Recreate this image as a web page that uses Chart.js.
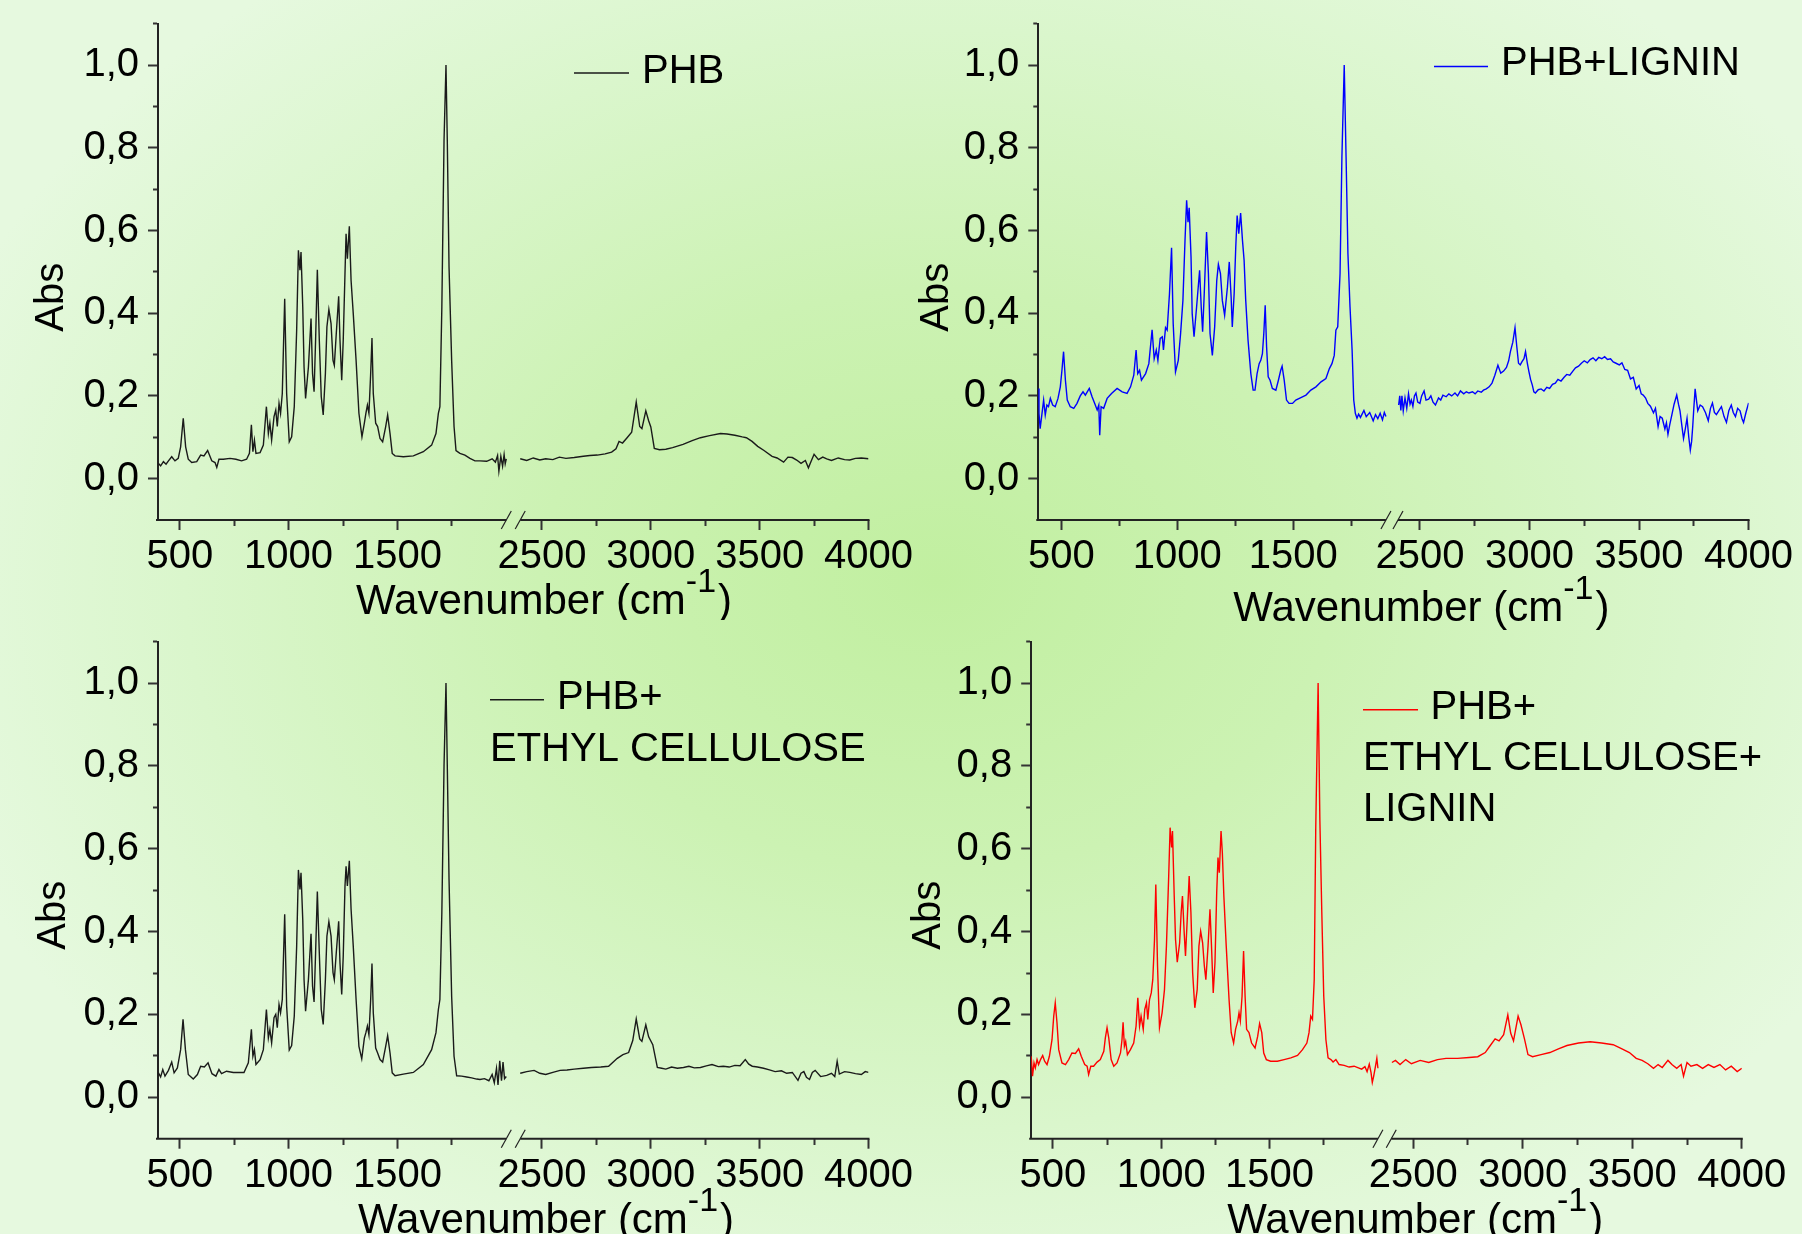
<!DOCTYPE html>
<html>
<head>
<meta charset="utf-8">
<title>FTIR spectra</title>
<script src="https://cdn.jsdelivr.net/npm/chart.js@4.4.1/dist/chart.umd.min.js"></script>
<style>
html,body{margin:0;padding:0;}
body{
    width:1802px;height:1234px;overflow:hidden;position:relative;
    background:radial-gradient(ellipse 58% 62% at 52% 47%, #c1efa0 0%, #ccf2b3 38%, #daf6cc 72%, #e6f9df 100%);
}
canvas{position:absolute;}
</style>
</head>
<body>
<canvas id="tl" width="930" height="620" style="left:0;top:0"></canvas>
<canvas id="tr" width="902" height="634" style="left:900px;top:0"></canvas>
<canvas id="bl" width="930" height="617" style="left:0;top:617px"></canvas>
<canvas id="br" width="902" height="617" style="left:900px;top:617px"></canvas>
<script>
// ---- data (wavenumber cm-1 / absorbance) ----
const phbWave=[402,412,425,437,448,463,478,493,504,516,527,539,555,578,596,611,628,647,662,670,680,700,731,758,784,807,820,829,836,843,850,869,884,898,907,914,922,933,941,948,956,963,971,982,991,1003,1014,1026,1037,1045,1052,1057,1065,1071,1078,1091,1103,1110,1117,1124,1132,1141,1150,1159,1169,1176,1185,1195,1204,1210,1219,1230,1236,1244,1251,1259,1264,1270,1279,1287,1297,1310,1323,1337,1348,1355,1362,1369,1377,1383,1389,1400,1409,1420,1432,1446,1455,1466,1476,1489,1527,1573,1619,1657,1677,1688,1695,1704,1714,1723,1729,1737,1749,1760,1769,1787,1810,1833,1856,1879,1910,1935,1950,1960,1966,1975,1983,1990,1995,2000,
    2400,2430,2460,2490,2517,2550,2580,2610,2648,2690,2720,2754,2790,2820,2840,2854,2870,2891,2912,2933,2949,2959,2977,2990,3000,3016,3040,3069,3100,3148,3190,3228,3270,3320,3350,3386,3420,3439,3465,3491,3520,3557,3580,3610,3630,3650,3670,3690,3710,3724,3735,3750,3770,3790,3808,3830,3861,3890,3914,3940,3967,4000];
const phbAbs=[.037,.031,.041,.035,.043,.053,.043,.049,.077,.146,.077,.047,.039,.041,.057,.055,.068,.043,.039,.027,.047,.047,.049,.047,.043,.047,.061,.13,.065,.093,.061,.063,.081,.174,.109,.134,.093,.15,.166,.126,.182,.158,.206,.435,.206,.089,.101,.174,.359,.552,.504,.548,.415,.27,.194,.27,.387,.254,.21,.335,.505,.335,.198,.154,.254,.367,.409,.375,.286,.274,.351,.441,.335,.238,.335,.496,.592,.532,.61,.479,.399,.286,.158,.101,.134,.158,.178,.158,.254,.34,.206,.134,.126,.097,.089,.126,.154,.109,.061,.055,.053,.055,.065,.081,.109,.158,.174,.415,.817,1.0,.817,.512,.286,.126,.068,.061,.057,.049,.043,.043,.042,.048,.040,.056,.018,.054,.030,.058,.036,.048,
    .048,.044,.05,.045,.048,.046,.052,.049,.051,.054,.056,.057,.06,.064,.072,.09,.086,.099,.112,.185,.126,.121,.164,.14,.125,.073,.07,.071,.075,.083,.092,.099,.104,.109,.108,.105,.101,.099,.09,.078,.068,.054,.05,.040,.052,.051,.045,.037,.044,.026,.04,.059,.046,.052,.048,.044,.05,.046,.045,.049,.05,.048];

const phbLigWave=[400,403,408,416,423,430,437,444,452,462,473,485,495,502,509,517,525,538,553,567,581,593,603,620,632,643,654,661,665,671,682,697,716,740,762,783,798,812,822,829,837,845,863,877,891,900,909,916,926,935,940,949,956,966,975,982,992,1004,1014,1024,1033,1040,1046,1051,1059,1064,1072,1083,1096,1103,1109,1116,1126,1134,1141,1151,1161,1170,1177,1186,1194,1204,1216,1224,1232,1237,1245,1252,1258,1265,1273,1281,1288,1295,1305,1317,1327,1335,1344,1353,1360,1367,1373,1379,1385,1392,1400,1410,1425,1436,1446,1452,1461,1471,1482,1497,1511,1533,1555,1576,1598,1620,1641,1656,1667,1677,1684,1692,1702,1710,1720,1728,1736,1745,1754,1761,1768,1775,1782,1790,1805,1815,1830,1845,1855,1865,1875,1885,1893,1900,
    2403,2408,2413,2418,2424,2432,2440,2448,2455,2461,
    2468,2475,2482,2490,2500,2508,2519,2528,2540,2550,
    2560,2571,2585,2595,2605,2620,2632,2645,2660,2672,
    2685,2700,2712,2724,2740,2752,2764,2780,2790,2803,
    2816,2829,2842,2856,2869,2882,2895,2905,2913,2924,
    2934,2942,2950,2958,2966,2975,2982,2990,2997,3005,
    3013,3020,3027,3040,3053,3066,3079,3092,3105,3118,
    3130,3144,3158,3170,3184,3198,3210,3224,3237,3250,
    3264,3277,3290,3303,3316,3330,3343,3356,3370,3382,
    3395,3410,3422,3435,3448,3461,3474,3487,3500,3510,
    3519,3530,3540,3552,3566,3575,3587,3596,3606,3618,
    3625,3632,3640,3650,3660,3672,3680,3687,3695,3703,
    3711,3719,3727,3734,3740,3745,3750,3756,3762,3768,
    3779,3790,3803,3816,3826,3835,3844,3853,3865,3876,
    3888,3899,3910,3921,3930,3940,3950,3961,3970,3977,
    3988,4000];
const phbLigAbs=[.218,.158,.121,.158,.19,.154,.178,.174,.194,.178,.174,.194,.222,.262,.307,.238,.19,.174,.17,.182,.2,.21,.202,.218,.198,.182,.166,.178,.105,.174,.17,.194,.206,.218,.21,.206,.222,.25,.311,.254,.262,.238,.254,.278,.36,.29,.311,.286,.339,.343,.311,.365,.359,.447,.558,.375,.258,.286,.351,.431,.576,.673,.62,.655,.536,.399,.343,.415,.504,.415,.355,.447,.596,.496,.351,.298,.367,.479,.518,.496,.431,.395,.463,.524,.439,.367,.447,.56,.636,.592,.642,.576,.528,.431,.335,.254,.214,.214,.254,.278,.286,.302,.351,.419,.319,.246,.238,.218,.214,.238,.262,.272,.238,.19,.182,.182,.19,.196,.202,.214,.222,.234,.242,.266,.278,.298,.359,.367,.496,.777,1.0,.777,.544,.415,.311,.19,.158,.146,.156,.148,.165,.15,.16,.14,.155,.145,.158,.142,.16,.15,
    .178,.2,.165,.2,.164,.195,.17,.205,.18,.19,
    .175,.2,.207,.185,.182,.2,.212,.19,.192,.2,
    .185,.178,.195,.19,.202,.198,.205,.2,.207,.2,
    .212,.205,.21,.207,.21,.205,.212,.209,.214,.217,
    .222,.231,.25,.274,.255,.26,.269,.285,.307,.33,
    .365,.32,.279,.275,.283,.29,.307,.28,.26,.24,
    .226,.21,.207,.215,.217,.212,.221,.218,.228,.231,
    .24,.236,.245,.252,.25,.26,.268,.272,.279,.285,
    .28,.288,.292,.285,.293,.29,.295,.288,.29,.282,
    .279,.275,.28,.264,.262,.241,.245,.217,.225,.205,
    .202,.195,.182,.175,.159,.17,.126,.15,.146,.12,
    .135,.107,.13,.155,.18,.202,.18,.164,.13,.097,
    .12,.146,.1,.069,.09,.126,.17,.217,.19,.164,
    .178,.174,.16,.14,.17,.183,.16,.155,.165,.174,
    .15,.136,.165,.178,.16,.15,.17,.164,.145,.136,
    .16,.183];

const phbEcWave=[402,412,422,432,448,463,474,489,504,515,526,539,562,581,596,613,630,648,666,680,692,715,746,777,795,815,829,836,843,850,869,884,898,907,914,922,933,941,948,956,963,971,982,991,1003,1014,1026,1037,1045,1052,1057,1065,1071,1078,1091,1103,1110,1117,1124,1132,1141,1150,1159,1169,1176,1185,1195,1204,1210,1219,1230,1236,1244,1251,1259,1264,1270,1279,1287,1297,1310,1323,1336,1348,1355,1362,1369,1377,1383,1389,1400,1409,1420,1432,1446,1455,1466,1476,1489,1527,1573,1619,1657,1677,1688,1695,1704,1714,1723,1729,1737,1749,1760,1772,1795,1818,1841,1864,1879,1900,1920,1935,1945,1955,1962,1970,1978,1985,1992,2000,
    2400,2430,2464,2490,2517,2550,2583,2615,2648,2690,2727,2770,2806,2846,2872,2898,2917,2933,2949,2959,2977,2990,3009,3030,3050,3069,3095,3122,3150,3175,3200,3228,3255,3281,3310,3333,3360,3386,3410,3434,3450,3466,3490,3518,3545,3571,3600,3624,3650,3676,3690,3703,3715,3729,3742,3755,3780,3808,3830,3845,3856,3866,3890,3914,3940,3967,3985,4000];
const phbEcAbs=[.059,.049,.067,.051,.065,.085,.059,.071,.115,.188,.115,.055,.044,.055,.075,.073,.083,.057,.051,.067,.057,.063,.06,.06,.06,.083,.164,.099,.115,.079,.091,.115,.212,.143,.164,.131,.192,.2,.168,.224,.204,.236,.442,.22,.114,.125,.196,.365,.549,.502,.542,.429,.284,.208,.284,.395,.268,.23,.349,.497,.349,.212,.176,.284,.389,.424,.389,.301,.284,.349,.425,.325,.248,.341,.51,.558,.51,.571,.454,.365,.236,.123,.093,.143,.156,.172,.151,.236,.323,.204,.119,.107,.091,.085,.123,.149,.107,.059,.052,.056,.06,.079,.115,.156,.212,.236,.446,.8,1.0,.8,.526,.244,.099,.052,.051,.049,.047,.044,.043,.045,.040,.055,.035,.07,.03,.088,.04,.085,.045,.05,
    .058,.062,.065,.058,.055,.06,.065,.066,.068,.07,.072,.073,.075,.094,.103,.108,.137,.189,.141,.135,.175,.146,.127,.072,.07,.068,.073,.07,.072,.075,.071,.072,.076,.079,.074,.075,.073,.077,.076,.091,.08,.075,.073,.07,.066,.062,.064,.058,.06,.041,.058,.062,.048,.043,.06,.065,.05,.053,.058,.05,.087,.056,.062,.06,.057,.055,.062,.06];

const phbEcLigWave=[400,406,413,419,427,434,443,453,462,473,484,496,504,511,519,527,542,558,573,588,604,619,631,647,658,665,675,688,704,719,735,742,750,758,769,781,796,812,819,824,830,836,844,858,873,884,892,900,907,917,924,932,938,946,954,961,969,975,983,992,1004,1015,1024,1034,1041,1048,1052,1060,1066,1074,1085,1092,1098,1106,1112,1120,1129,1137,1145,1155,1166,1174,1182,1191,1199,1206,1216,1225,1232,1240,1248,1256,1262,1268,1276,1282,1289,1300,1313,1323,1334,1343,1353,1359,1365,1373,1380,1387,1394,1405,1417,1433,1445,1454,1464,1473,1485,1505,1536,1567,1598,1629,1652,1672,1682,1690,1698,1706,1713,1724,1732,1741,1750,1760,1770,1783,1793,1806,1821,1844,1867,1890,1910,1925,1940,1950,1960,1968,1974,1980,1987,1995,2000,
    2403,2419,2440,2466,2492,2532,2571,2611,2650,2703,2755,2795,2829,2848,2874,2892,2913,2932,2945,2958,2979,2992,3008,3024,3045,3084,3124,3163,3202,3255,3308,3360,3413,3453,3487,3518,3545,3571,3597,3618,3637,3663,3681,3703,3723,3734,3750,3768,3795,3821,3847,3873,3900,3926,3952,3979,4000];
const phbEcLigAbs=[.099,.051,.083,.071,.091,.079,.091,.101,.087,.079,.099,.139,.196,.228,.18,.115,.083,.079,.091,.107,.106,.117,.099,.079,.075,.055,.075,.075,.085,.091,.111,.143,.168,.143,.091,.075,.083,.107,.139,.181,.123,.135,.103,.115,.131,.172,.24,.172,.196,.164,.212,.228,.188,.236,.252,.284,.381,.514,.317,.168,.204,.26,.365,.526,.651,.603,.643,.486,.381,.326,.373,.446,.486,.397,.341,.429,.534,.446,.301,.216,.26,.365,.401,.373,.317,.284,.365,.454,.365,.252,.325,.494,.579,.542,.643,.591,.486,.365,.236,.156,.131,.164,.184,.204,.184,.244,.353,.244,.164,.156,.131,.119,.147,.178,.156,.107,.091,.087,.087,.091,.095,.101,.115,.131,.156,.196,.188,.284,.647,1.0,.671,.446,.244,.139,.095,.091,.085,.091,.079,.077,.073,.075,.071,.068,.074,.062,.08,.06,.036,.05,.07,.094,.07,
    .084,.089,.079,.091,.081,.089,.084,.091,.094,.094,.096,.098,.108,.122,.141,.136,.151,.199,.155,.136,.196,.175,.141,.103,.098,.103,.108,.117,.125,.131,.134,.131,.127,.117,.108,.094,.089,.081,.07,.079,.072,.089,.079,.07,.079,.051,.084,.075,.079,.07,.079,.072,.079,.066,.075,.062,.07];

const phbLabel=['PHB'];
const phbLigLabel=['PHB+LIGNIN'];
const phbEcLabel=['PHB+','ETHYL CELLULOSE'];
const phbEcLigLabel=['PHB+','ETHYL CELLULOSE+','LIGNIN'];

const waveTicks=[500,750,1000,1250,1500,1750,2500,2750,3000,3250,3500,3750,4000];
const absTicks=[0,0.1,0.2,0.3,0.4,0.5,0.6,0.7,0.8,0.9,1.0,1.1];
const xTitle=['Wavenumber (cm','-1',')'];
const yTitle='Abs';

const FONT="'Liberation Sans', Arial, Helvetica, sans-serif";
Chart.defaults.font.family=FONT;

function makePanel(cfg) {
    // the x axis is broken: [400..leftEnd] then [2400..4000], squeezed by k
    function toAxis(w) {
        return w<=cfg.leftEnd ? w : cfg.leftEnd+cfg.gap+(w-2400)*cfg.k;
    }

    let points=[];
    cfg.wave.forEach((w,i)=>{
        if (i>0 && cfg.wave[i-1]<=cfg.leftEnd && w>cfg.leftEnd)
            points.push({x:cfg.leftEnd+cfg.gap/2,y:null});
        points.push({x:toAxis(w),y:cfg.abs[i]});
    });

    let decor={
        id:'decor',
        afterDraw(chart) {
            let
                ctx=chart.ctx,
                a=chart.chartArea,
                xs=chart.scales.x,
                by=xs.top,
                l2=xs.getPixelForValue(cfg.leftEnd),
                r1=xs.getPixelForValue(toAxis(2400)),
                r2=xs.getPixelForValue(toAxis(4000));
            ctx.save();
            // axis line with a gap and "//" marks
            ctx.strokeStyle='#222';
            ctx.lineWidth=2;
            ctx.beginPath();
            ctx.moveTo(a.left-2,by);
            ctx.lineTo(l2,by);
            ctx.moveTo(r1,by);
            ctx.lineTo(r2+1,by);
            ctx.stroke();
            ctx.lineWidth=1.2;
            [l2,r1].forEach(px=>{
                ctx.beginPath();
                ctx.moveTo(px-5,by+9);
                ctx.lineTo(px+5,by-9);
                ctx.stroke();
            });

            // legend
            let lg=cfg.legend;
            ctx.strokeStyle=cfg.color;
            ctx.lineWidth=1.5;
            ctx.beginPath();
            ctx.moveTo(lg.x0,lg.ly);
            ctx.lineTo(lg.x1,lg.ly);
            ctx.stroke();
            ctx.fillStyle='#000';
            ctx.font='40px '+FONT;
            ctx.textAlign='left';
            ctx.textBaseline='middle';
            cfg.label.forEach((t,i)=>ctx.fillText(t,lg.pos[i][0],lg.pos[i][1]+3));

            // x title with superscript
            ctx.textBaseline='alphabetic';
            ctx.font='42px '+FONT;
            let tx=a.left+cfg.titleDx, ty=a.bottom+cfg.titleDy;
            ctx.fillText(xTitle[0],tx,ty);
            let w1=ctx.measureText(xTitle[0]).width;
            ctx.font='34px '+FONT;
            ctx.fillText(xTitle[1],tx+w1,ty-22);
            let w2=ctx.measureText(xTitle[1]).width;
            ctx.font='42px '+FONT;
            ctx.fillText(xTitle[2],tx+w1+w2+2,ty);

            // y title
            ctx.font='40px '+FONT;
            ctx.translate(a.left+cfg.absDx,a.top+273.5);
            ctx.rotate(-Math.PI/2);
            ctx.textAlign='center';
            ctx.fillText(yTitle,0,0);
            ctx.restore();
        }
    };

    new Chart(document.getElementById(cfg.id),{
        type:'line',
        data:{
            datasets:[{
                label:cfg.label.join(' '),
                data:points,
                borderColor:cfg.color,
                borderWidth:1.4,
                pointRadius:0,
                tension:0,
                spanGaps:false
            }]
        },
        options:{
            responsive:false,
            animation:false,
            events:[],
            layout:{padding:{left:0,top:cfg.area.top,right:cfg.w-cfg.area.right,bottom:0}},
            plugins:{legend:{display:false},tooltip:{enabled:false}},
            scales:{
                x:{
                    type:'linear',
                    min:400,
                    max:toAxis(4000),
                    border:{display:false},
                    grid:{
                        drawOnChartArea:false,
                        tickLength:10,
                        tickWidth:2,
                        tickColor:'#333',
                        tickBorderDash:c=>(c.tick && c.tick.wave%500!==0) ? [6,40] : []
                    },
                    ticks:{
                        autoSkip:false,
                        maxRotation:0,
                        minRotation:0,
                        padding:3,
                        color:'#000',
                        font:{size:40},
                        callback:(v,i,t)=>t[i].wave%500===0 ? String(t[i].wave) : ''
                    },
                    afterBuildTicks:s=>{
                        s.ticks=waveTicks
                            .filter(w=>w<=cfg.leftEnd||w>=2400)
                            .map(w=>({value:toAxis(w),wave:w}));
                    },
                    afterFit:s=>{
                        s.height=cfg.h-cfg.area.bottom;
                        s.paddingLeft=0;
                        s.paddingRight=0;
                    }
                },
                y:{
                    type:'linear',
                    min:-0.1,
                    max:1.1,
                    border:{display:true,color:'#222',width:2},
                    grid:{
                        drawOnChartArea:false,
                        tickLength:10,
                        tickWidth:2,
                        tickColor:'#333',
                        tickBorderDash:c=>(c.tick && Math.round(c.tick.value*10)%2!==0) ? [0,5,5,40] : []
                    },
                    ticks:{
                        autoSkip:false,
                        padding:9,
                        color:'#000',
                        font:{size:40},
                        callback:v=>Math.round(v*10)%2===0 ? v.toFixed(1).replace('.',',') : ''
                    },
                    afterBuildTicks:s=>{
                        s.ticks=absTicks.map(v=>({value:v}));
                    },
                    afterFit:s=>{
                        s.width=cfg.area.left;
                        s.paddingTop=0;
                        s.paddingBottom=0;
                    }
                }
            }
        },
        plugins:[decor]
    });
}

makePanel({
    id:'tl', w:930, h:620,
    area:{left:158,right:868.5,top:23.7,bottom:520},
    leftEnd:2000, gap:64, k:1,
    wave:phbWave, abs:phbAbs, label:phbLabel, color:'#1a1a1a',
    legend:{x0:574,x1:629,ly:73,pos:[[642,69]]},
    titleDx:198, titleDy:94, absDx:-95
});
makePanel({
    id:'tr', w:902, h:634,
    area:{left:138.3,right:848.6,top:23.7,bottom:520},
    leftEnd:1900, gap:52, k:0.9455,
    wave:phbLigWave, abs:phbLigAbs, label:phbLigLabel, color:'#0000ff',
    legend:{x0:534,x1:588,ly:66.4,pos:[[601,61.3]]},
    titleDx:195, titleDy:101, absDx:-90
});
makePanel({
    id:'bl', w:930, h:617,
    area:{left:158,right:868.5,top:24.7,bottom:521.7},
    leftEnd:2000, gap:64, k:1,
    wave:phbEcWave, abs:phbEcAbs, label:phbEcLabel, color:'#1a1a1a',
    legend:{x0:490,x1:544,ly:82.8,pos:[[557,78],[490,129.5]]},
    titleDx:200, titleDy:94, absDx:-93
});
makePanel({
    id:'br', w:902, h:617,
    area:{left:131.2,right:841.8,top:24.7,bottom:521.7},
    leftEnd:2000, gap:61.5, k:1.011,
    wave:phbEcLigWave, abs:phbEcLigAbs, label:phbEcLigLabel, color:'#ff0000',
    legend:{x0:463,x1:518,ly:92.7,pos:[[530.5,88],[463,139.4],[463,189.8]]},
    titleDx:196, titleDy:94, absDx:-91
});
</script>
</body>
</html>
